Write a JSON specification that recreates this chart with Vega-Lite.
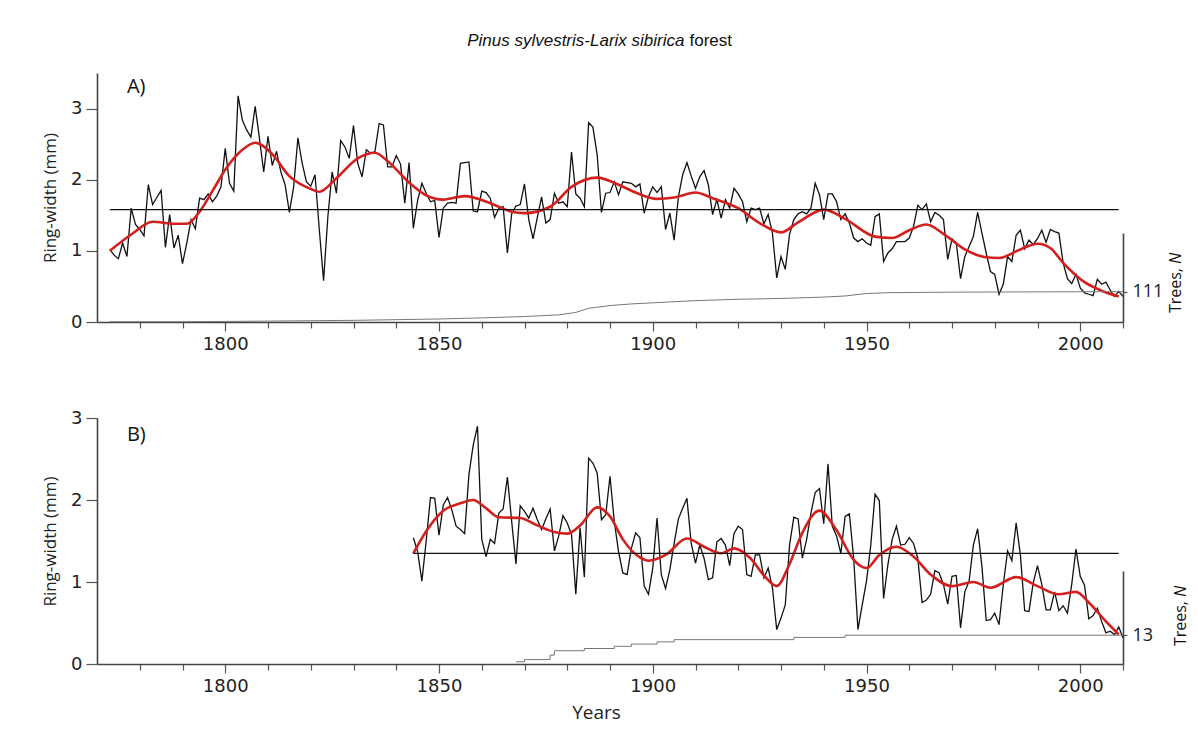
{
  "$schema": "https://vega.github.io/schema/vega-lite/v6.json",
  "background": "white",
  "padding": {"left": 41, "top": 31, "right": 6, "bottom": 2},
  "config": {
    "view": {"stroke": null},
    "axis": {
      "grid": false,
      "domainColor": "#444",
      "domainWidth": 1.6,
      "tickColor": "#555",
      "tickWidth": 1.2,
      "labelFont": "DejaVu Sans",
      "labelFontSize": 18,
      "labelColor": "#222",
      "titleFont": "Open Sans",
      "titleFontWeight": "normal",
      "titleColor": "#222"
    }
  },
  "datasets": {
    "anchor": [{}],
    "rwA": [
      {"year":1773,"rw":1.02},{"year":1774,"rw":0.94},{"year":1775,"rw":0.89},{"year":1776,"rw":1.11},{"year":1777,"rw":0.92},
      {"year":1778,"rw":1.60},{"year":1779,"rw":1.37},{"year":1780,"rw":1.30},{"year":1781,"rw":1.21},{"year":1782,"rw":1.93},
      {"year":1783,"rw":1.65},{"year":1784,"rw":1.75},{"year":1785,"rw":1.85},{"year":1786,"rw":1.05},{"year":1787,"rw":1.51},
      {"year":1788,"rw":1.04},{"year":1789,"rw":1.22},{"year":1790,"rw":0.82},{"year":1791,"rw":1.11},{"year":1792,"rw":1.44},
      {"year":1793,"rw":1.31},{"year":1794,"rw":1.74},{"year":1795,"rw":1.72},{"year":1796,"rw":1.80},{"year":1797,"rw":1.69},
      {"year":1798,"rw":1.77},{"year":1799,"rw":1.90},{"year":1800,"rw":2.44},{"year":1801,"rw":1.95},{"year":1802,"rw":1.84},
      {"year":1803,"rw":3.18},{"year":1804,"rw":2.84},{"year":1805,"rw":2.70},{"year":1806,"rw":2.60},{"year":1807,"rw":3.03},
      {"year":1808,"rw":2.58},{"year":1809,"rw":2.11},{"year":1810,"rw":2.61},{"year":1811,"rw":2.20},{"year":1812,"rw":2.40},
      {"year":1813,"rw":2.11},{"year":1814,"rw":1.93},{"year":1815,"rw":1.54},{"year":1816,"rw":1.90},{"year":1817,"rw":2.59},
      {"year":1818,"rw":2.23},{"year":1819,"rw":1.97},{"year":1820,"rw":1.91},{"year":1821,"rw":2.07},{"year":1822,"rw":1.30},
      {"year":1823,"rw":0.58},{"year":1824,"rw":1.48},{"year":1825,"rw":2.11},{"year":1826,"rw":1.81},{"year":1827,"rw":2.55},
      {"year":1828,"rw":2.46},{"year":1829,"rw":2.30},{"year":1830,"rw":2.76},{"year":1831,"rw":2.23},{"year":1832,"rw":2.04},
      {"year":1833,"rw":2.42},{"year":1834,"rw":2.37},{"year":1835,"rw":2.39},{"year":1836,"rw":2.79},{"year":1837,"rw":2.77},
      {"year":1838,"rw":2.18},{"year":1839,"rw":2.18},{"year":1840,"rw":2.34},{"year":1841,"rw":2.22},{"year":1842,"rw":1.67},
      {"year":1843,"rw":2.24},{"year":1844,"rw":1.32},{"year":1845,"rw":1.71},{"year":1846,"rw":1.95},{"year":1847,"rw":1.81},
      {"year":1848,"rw":1.69},{"year":1849,"rw":1.71},{"year":1850,"rw":1.19},{"year":1851,"rw":1.60},{"year":1852,"rw":1.67},
      {"year":1853,"rw":1.68},{"year":1854,"rw":1.67},{"year":1855,"rw":2.23},{"year":1856,"rw":2.24},{"year":1857,"rw":2.25},
      {"year":1858,"rw":1.56},{"year":1859,"rw":1.55},{"year":1860,"rw":1.84},{"year":1861,"rw":1.82},{"year":1862,"rw":1.74},
      {"year":1863,"rw":1.47},{"year":1864,"rw":1.60},{"year":1865,"rw":1.62},{"year":1866,"rw":0.97},{"year":1867,"rw":1.52},
      {"year":1868,"rw":1.63},{"year":1869,"rw":1.65},{"year":1870,"rw":1.94},{"year":1871,"rw":1.44},{"year":1872,"rw":1.17},
      {"year":1873,"rw":1.47},{"year":1874,"rw":1.76},{"year":1875,"rw":1.39},{"year":1876,"rw":1.44},{"year":1877,"rw":1.81},
      {"year":1878,"rw":1.67},{"year":1879,"rw":1.69},{"year":1880,"rw":1.62},{"year":1881,"rw":2.39},{"year":1882,"rw":1.80},
      {"year":1883,"rw":1.74},{"year":1884,"rw":1.62},{"year":1885,"rw":2.80},{"year":1886,"rw":2.74},{"year":1887,"rw":2.35},
      {"year":1888,"rw":1.54},{"year":1889,"rw":1.81},{"year":1890,"rw":1.82},{"year":1891,"rw":1.97},{"year":1892,"rw":1.79},
      {"year":1893,"rw":1.97},{"year":1894,"rw":1.96},{"year":1895,"rw":1.95},{"year":1896,"rw":1.90},{"year":1897,"rw":1.94},
      {"year":1898,"rw":1.53},{"year":1899,"rw":1.76},{"year":1900,"rw":1.90},{"year":1901,"rw":1.82},{"year":1902,"rw":1.90},
      {"year":1903,"rw":1.30},{"year":1904,"rw":1.53},{"year":1905,"rw":1.15},{"year":1906,"rw":1.76},{"year":1907,"rw":2.07},
      {"year":1908,"rw":2.24},{"year":1909,"rw":2.05},{"year":1910,"rw":1.88},{"year":1911,"rw":2.04},{"year":1912,"rw":2.13},
      {"year":1913,"rw":1.93},{"year":1914,"rw":1.51},{"year":1915,"rw":1.72},{"year":1916,"rw":1.46},{"year":1917,"rw":1.72},
      {"year":1918,"rw":1.60},{"year":1919,"rw":1.88},{"year":1920,"rw":1.80},{"year":1921,"rw":1.69},{"year":1922,"rw":1.41},
      {"year":1923,"rw":1.60},{"year":1924,"rw":1.58},{"year":1925,"rw":1.60},{"year":1926,"rw":1.38},{"year":1927,"rw":1.51},
      {"year":1928,"rw":1.25},{"year":1929,"rw":0.62},{"year":1930,"rw":0.92},{"year":1931,"rw":0.74},{"year":1932,"rw":1.23},
      {"year":1933,"rw":1.44},{"year":1934,"rw":1.52},{"year":1935,"rw":1.55},{"year":1936,"rw":1.52},{"year":1937,"rw":1.60},
      {"year":1938,"rw":1.95},{"year":1939,"rw":1.79},{"year":1940,"rw":1.44},{"year":1941,"rw":1.80},{"year":1942,"rw":1.80},
      {"year":1943,"rw":1.69},{"year":1944,"rw":1.44},{"year":1945,"rw":1.52},{"year":1946,"rw":1.39},{"year":1947,"rw":1.18},
      {"year":1948,"rw":1.13},{"year":1949,"rw":1.17},{"year":1950,"rw":1.11},{"year":1951,"rw":1.08},{"year":1952,"rw":1.48},
      {"year":1953,"rw":1.52},{"year":1954,"rw":0.85},{"year":1955,"rw":0.97},{"year":1956,"rw":1.03},{"year":1957,"rw":1.13},
      {"year":1958,"rw":1.13},{"year":1959,"rw":1.13},{"year":1960,"rw":1.18},{"year":1961,"rw":1.34},{"year":1962,"rw":1.64},
      {"year":1963,"rw":1.58},{"year":1964,"rw":1.66},{"year":1965,"rw":1.41},{"year":1966,"rw":1.54},{"year":1967,"rw":1.50},
      {"year":1968,"rw":1.44},{"year":1969,"rw":0.88},{"year":1970,"rw":1.17},{"year":1971,"rw":1.11},{"year":1972,"rw":0.61},
      {"year":1973,"rw":0.92},{"year":1974,"rw":1.06},{"year":1975,"rw":1.20},{"year":1976,"rw":1.54},{"year":1977,"rw":1.25},
      {"year":1978,"rw":0.97},{"year":1979,"rw":0.71},{"year":1980,"rw":0.67},{"year":1981,"rw":0.39},{"year":1982,"rw":0.53},
      {"year":1983,"rw":0.92},{"year":1984,"rw":0.85},{"year":1985,"rw":1.22},{"year":1986,"rw":1.29},{"year":1987,"rw":1.03},
      {"year":1988,"rw":1.15},{"year":1989,"rw":1.09},{"year":1990,"rw":1.17},{"year":1991,"rw":1.29},{"year":1992,"rw":1.12},
      {"year":1993,"rw":1.30},{"year":1994,"rw":1.27},{"year":1995,"rw":1.25},{"year":1996,"rw":0.83},{"year":1997,"rw":0.61},
      {"year":1998,"rw":0.54},{"year":1999,"rw":0.67},{"year":2000,"rw":0.48},{"year":2001,"rw":0.41},{"year":2002,"rw":0.39},
      {"year":2003,"rw":0.37},{"year":2004,"rw":0.60},{"year":2005,"rw":0.53},{"year":2006,"rw":0.56},{"year":2007,"rw":0.45},
      {"year":2008,"rw":0.36},{"year":2009,"rw":0.43},{"year":2010,"rw":0.36}
    ],
    "splineA": [
      {"year":1773,"rw":1.00},{"year":1778,"rw":1.23},{"year":1783,"rw":1.41},{"year":1788,"rw":1.38},{"year":1791,"rw":1.38},
      {"year":1794,"rw":1.55},{"year":1797,"rw":1.84},{"year":1800,"rw":2.14},{"year":1804,"rw":2.42},{"year":1807,"rw":2.52},
      {"year":1811,"rw":2.36},{"year":1815,"rw":2.05},{"year":1820,"rw":1.87},{"year":1822,"rw":1.83},{"year":1826,"rw":2.02},
      {"year":1831,"rw":2.30},{"year":1835,"rw":2.38},{"year":1838,"rw":2.26},{"year":1843,"rw":1.96},{"year":1847,"rw":1.78},
      {"year":1851,"rw":1.72},{"year":1856,"rw":1.77},{"year":1862,"rw":1.67},{"year":1867,"rw":1.55},{"year":1870,"rw":1.53},
      {"year":1876,"rw":1.62},{"year":1881,"rw":1.90},{"year":1887,"rw":2.03},{"year":1892,"rw":1.93},{"year":1896,"rw":1.82},
      {"year":1901,"rw":1.73},{"year":1905,"rw":1.75},{"year":1910,"rw":1.82},{"year":1914,"rw":1.74},{"year":1920,"rw":1.60},
      {"year":1925,"rw":1.39},{"year":1930,"rw":1.26},{"year":1934,"rw":1.40},{"year":1940,"rw":1.58},{"year":1945,"rw":1.45},
      {"year":1952,"rw":1.20},{"year":1956,"rw":1.18},{"year":1960,"rw":1.29},{"year":1964,"rw":1.37},{"year":1968,"rw":1.24},
      {"year":1973,"rw":1.02},{"year":1978,"rw":0.91},{"year":1981,"rw":0.90},{"year":1986,"rw":1.02},{"year":1990,"rw":1.10},
      {"year":1993,"rw":1.04},{"year":1996,"rw":0.83},{"year":2001,"rw":0.56},{"year":2005,"rw":0.44},{"year":2009,"rw":0.36}
    ],
    "meanA": [{"start":1773,"end":2009,"mean":1.58}],
    "depthA": [
      {"year":1773,"trees":1},{"year":1790,"trees":1},{"year":1800,"trees":2},{"year":1815,"trees":4},{"year":1830,"trees":6},
      {"year":1850,"trees":11},{"year":1860,"trees":15},{"year":1870,"trees":20},{"year":1878,"trees":26},{"year":1882,"trees":35},
      {"year":1885,"trees":50},{"year":1890,"trees":60},{"year":1895,"trees":66},{"year":1900,"trees":70},{"year":1910,"trees":78},
      {"year":1920,"trees":83},{"year":1930,"trees":86},{"year":1940,"trees":91},{"year":1945,"trees":95},{"year":1950,"trees":104},
      {"year":1955,"trees":107},{"year":1970,"trees":109},{"year":2010,"trees":111}
    ],
    "rwB": [
      {"year":1844,"rw":1.54},{"year":1845,"rw":1.37},{"year":1846,"rw":1.01},{"year":1847,"rw":1.50},{"year":1848,"rw":2.03},
      {"year":1849,"rw":2.02},{"year":1850,"rw":1.57},{"year":1851,"rw":1.94},{"year":1852,"rw":2.03},{"year":1853,"rw":1.88},
      {"year":1854,"rw":1.68},{"year":1855,"rw":1.64},{"year":1856,"rw":1.59},{"year":1857,"rw":2.31},{"year":1858,"rw":2.67},
      {"year":1859,"rw":2.90},{"year":1860,"rw":1.52},{"year":1861,"rw":1.31},{"year":1862,"rw":1.52},{"year":1863,"rw":1.47},
      {"year":1864,"rw":1.84},{"year":1865,"rw":1.89},{"year":1866,"rw":2.28},{"year":1867,"rw":1.74},{"year":1868,"rw":1.22},
      {"year":1869,"rw":1.93},{"year":1870,"rw":1.86},{"year":1871,"rw":1.78},{"year":1872,"rw":1.90},{"year":1873,"rw":1.76},
      {"year":1874,"rw":1.64},{"year":1875,"rw":1.77},{"year":1876,"rw":1.89},{"year":1877,"rw":1.38},{"year":1878,"rw":1.56},
      {"year":1879,"rw":1.81},{"year":1880,"rw":1.72},{"year":1881,"rw":1.58},{"year":1882,"rw":0.85},{"year":1883,"rw":1.66},
      {"year":1884,"rw":1.06},{"year":1885,"rw":2.51},{"year":1886,"rw":2.45},{"year":1887,"rw":2.33},{"year":1888,"rw":1.76},
      {"year":1889,"rw":1.82},{"year":1890,"rw":2.29},{"year":1891,"rw":1.74},{"year":1892,"rw":1.37},{"year":1893,"rw":1.11},
      {"year":1894,"rw":1.09},{"year":1895,"rw":1.41},{"year":1896,"rw":1.60},{"year":1897,"rw":1.54},{"year":1898,"rw":0.95},
      {"year":1899,"rw":0.85},{"year":1900,"rw":1.17},{"year":1901,"rw":1.78},{"year":1902,"rw":1.09},{"year":1903,"rw":0.92},
      {"year":1904,"rw":1.15},{"year":1905,"rw":1.47},{"year":1906,"rw":1.77},{"year":1907,"rw":1.90},{"year":1908,"rw":2.02},
      {"year":1909,"rw":1.47},{"year":1910,"rw":1.23},{"year":1911,"rw":1.45},{"year":1912,"rw":1.29},{"year":1913,"rw":1.03},
      {"year":1914,"rw":1.05},{"year":1915,"rw":1.49},{"year":1916,"rw":1.53},{"year":1917,"rw":1.45},{"year":1918,"rw":1.20},
      {"year":1919,"rw":1.59},{"year":1920,"rw":1.68},{"year":1921,"rw":1.64},{"year":1922,"rw":1.09},{"year":1923,"rw":1.07},
      {"year":1924,"rw":1.33},{"year":1925,"rw":1.33},{"year":1926,"rw":1.05},{"year":1927,"rw":1.17},{"year":1928,"rw":0.93},
      {"year":1929,"rw":0.42},{"year":1930,"rw":0.56},{"year":1931,"rw":0.72},{"year":1932,"rw":1.45},{"year":1933,"rw":1.79},
      {"year":1934,"rw":1.77},{"year":1935,"rw":1.29},{"year":1936,"rw":1.52},{"year":1937,"rw":1.84},{"year":1938,"rw":2.09},
      {"year":1939,"rw":2.14},{"year":1940,"rw":1.71},{"year":1941,"rw":2.44},{"year":1942,"rw":1.68},{"year":1943,"rw":1.56},
      {"year":1944,"rw":1.35},{"year":1945,"rw":1.80},{"year":1946,"rw":1.83},{"year":1947,"rw":1.29},{"year":1948,"rw":0.42},
      {"year":1949,"rw":0.72},{"year":1950,"rw":1.01},{"year":1951,"rw":1.45},{"year":1952,"rw":2.07},{"year":1953,"rw":1.99},
      {"year":1954,"rw":0.80},{"year":1955,"rw":1.21},{"year":1956,"rw":1.52},{"year":1957,"rw":1.68},{"year":1958,"rw":1.45},
      {"year":1959,"rw":1.46},{"year":1960,"rw":1.54},{"year":1961,"rw":1.47},{"year":1962,"rw":1.29},{"year":1963,"rw":0.75},
      {"year":1964,"rw":0.78},{"year":1965,"rw":0.85},{"year":1966,"rw":1.14},{"year":1967,"rw":1.11},{"year":1968,"rw":0.97},
      {"year":1969,"rw":0.73},{"year":1970,"rw":1.07},{"year":1971,"rw":1.08},{"year":1972,"rw":0.44},{"year":1973,"rw":0.88},
      {"year":1974,"rw":1.01},{"year":1975,"rw":1.45},{"year":1976,"rw":1.65},{"year":1977,"rw":1.19},{"year":1978,"rw":0.53},
      {"year":1979,"rw":0.54},{"year":1980,"rw":0.62},{"year":1981,"rw":0.48},{"year":1982,"rw":0.97},{"year":1983,"rw":1.38},
      {"year":1984,"rw":1.26},{"year":1985,"rw":1.72},{"year":1986,"rw":1.33},{"year":1987,"rw":0.65},{"year":1988,"rw":0.64},
      {"year":1989,"rw":0.99},{"year":1990,"rw":1.20},{"year":1991,"rw":0.97},{"year":1992,"rw":0.66},{"year":1993,"rw":0.66},
      {"year":1994,"rw":0.88},{"year":1995,"rw":0.65},{"year":1996,"rw":0.71},{"year":1997,"rw":0.62},{"year":1998,"rw":0.97},
      {"year":1999,"rw":1.40},{"year":2000,"rw":1.07},{"year":2001,"rw":0.96},{"year":2002,"rw":0.55},{"year":2003,"rw":0.59},
      {"year":2004,"rw":0.68},{"year":2005,"rw":0.52},{"year":2006,"rw":0.38},{"year":2007,"rw":0.40},{"year":2008,"rw":0.36},
      {"year":2009,"rw":0.45},{"year":2010,"rw":0.32}
    ],
    "splineB": [
      {"year":1844,"rw":1.35},{"year":1847,"rw":1.62},{"year":1851,"rw":1.87},{"year":1855,"rw":1.96},{"year":1858,"rw":2.00},
      {"year":1861,"rw":1.90},{"year":1864,"rw":1.79},{"year":1869,"rw":1.78},{"year":1873,"rw":1.69},{"year":1877,"rw":1.61},
      {"year":1880,"rw":1.59},{"year":1883,"rw":1.69},{"year":1887,"rw":1.91},{"year":1890,"rw":1.80},{"year":1893,"rw":1.52},
      {"year":1897,"rw":1.30},{"year":1899,"rw":1.26},{"year":1903,"rw":1.33},{"year":1908,"rw":1.53},{"year":1912,"rw":1.43},
      {"year":1916,"rw":1.35},{"year":1919,"rw":1.41},{"year":1923,"rw":1.28},{"year":1926,"rw":1.08},{"year":1929,"rw":0.95},
      {"year":1932,"rw":1.22},{"year":1935,"rw":1.60},{"year":1939,"rw":1.87},{"year":1943,"rw":1.63},{"year":1947,"rw":1.27},
      {"year":1950,"rw":1.17},{"year":1953,"rw":1.33},{"year":1957,"rw":1.43},{"year":1961,"rw":1.31},{"year":1965,"rw":1.09},
      {"year":1970,"rw":0.95},{"year":1975,"rw":1.00},{"year":1979,"rw":0.93},{"year":1985,"rw":1.06},{"year":1990,"rw":0.95},
      {"year":1995,"rw":0.85},{"year":1999,"rw":0.88},{"year":2002,"rw":0.75},{"year":2006,"rw":0.52},{"year":2009,"rw":0.36}
    ],
    "meanB": [{"start":1844,"end":2009,"mean":1.35}],
    "depthB": [
      {"year":1868,"trees":1},{"year":1870,"trees":2},{"year":1876,"trees":4},{"year":1877,"trees":6},{"year":1884,"trees":7},
      {"year":1891,"trees":8},{"year":1895,"trees":9},{"year":1901,"trees":10},{"year":1905,"trees":11},{"year":1933,"trees":12},
      {"year":1945,"trees":13},{"year":2010,"trees":13}
    ]
  },
  "vconcat": [
    {
      "width": 1026,
      "height": 249,
      "layer": [
        {
          "layer": [
            {
              "data": {"name": "rwA"},
              "mark": {"type": "line", "color": "#111", "strokeWidth": 1.3},
              "encoding": {
                "x": {"field": "year", "type": "quantitative",
                  "scale": {"domain": [1770, 2010], "nice": false, "zero": false},
                  "axis": {"title": null, "format": "d",
                    "values": [1780,1790,1800,1810,1820,1830,1840,1850,1860,1870,1880,1890,1900,1910,1920,1930,1940,1950,1960,1970,1980,1990,2000,2010],
                    "labelExpr": "datum.value % 50 === 0 ? datum.label : ''",
                    "tickSize": {"condition": {"test": "datum.value % 50 === 0", "value": 9}, "value": 6},
                    "labelPadding": 4}},
                "y": {"field": "rw", "type": "quantitative",
                  "scale": {"domain": [0, 3.5], "nice": false},
                  "axis": {"title": "Ring-width (mm)", "titleFontSize": 17, "titlePadding": 11, "format": "d",
                    "values": [0,0.25,0.5,0.75,1,1.25,1.5,1.75,2,2.25,2.5,2.75,3,3.25,3.5],
                    "labelExpr": "datum.value % 1 === 0 ? datum.label : ''",
                    "tickSize": {"condition": {"test": "datum.value % 1 === 0", "value": 11}, "value": 6},
                    "labelPadding": 4}}
              }
            },
            {
              "data": {"name": "splineA"},
              "mark": {"type": "line", "color": "#d41f1f", "strokeWidth": 2.6, "interpolate": "monotone"},
              "encoding": {
                "x": {"field": "year", "type": "quantitative", "scale": {"domain": [1770, 2010], "nice": false, "zero": false}},
                "y": {"field": "rw", "type": "quantitative"}
              }
            },
            {
              "data": {"name": "meanA"},
              "mark": {"type": "rule", "color": "#111", "strokeWidth": 1.3},
              "encoding": {
                "x": {"field": "start", "type": "quantitative", "scale": {"domain": [1770, 2010], "nice": false, "zero": false}},
                "x2": {"field": "end"},
                "y": {"field": "mean", "type": "quantitative"}
              }
            },
            {
              "data": {"name": "anchor"},
              "mark": {"type": "text", "text": "A)", "font": "Open Sans", "fontSize": 20, "align": "left", "baseline": "alphabetic", "color": "#111"},
              "encoding": {
                "x": {"datum": 1777, "type": "quantitative"},
                "y": {"datum": 3.22, "type": "quantitative"}
              }
            },
            {
              "data": {"name": "anchor"},
              "mark": {"type": "text", "text": "Pinus sylvestris-Larix sibirica", "font": "Liberation Sans", "fontSize": 17, "fontStyle": "italic", "align": "right", "baseline": "alphabetic", "dx": -2.5, "dy": -27.5, "color": "#111"},
              "encoding": {
                "x": {"datum": 1908, "type": "quantitative"},
                "y": {"datum": 3.5, "type": "quantitative"}
              }
            },
            {
              "data": {"name": "anchor"},
              "mark": {"type": "text", "text": "forest", "font": "Liberation Sans", "fontSize": 17, "align": "left", "baseline": "alphabetic", "dx": 2.5, "dy": -27.5, "color": "#111"},
              "encoding": {
                "x": {"datum": 1908, "type": "quantitative"},
                "y": {"datum": 3.5, "type": "quantitative"}
              }
            }
          ]
        },
        {
          "layer": [
            {
              "data": {"name": "depthA"},
              "mark": {"type": "line", "color": "#777", "strokeWidth": 1},
              "encoding": {
                "x": {"field": "year", "type": "quantitative", "scale": {"domain": [1770, 2010], "nice": false, "zero": false}},
                "y": {"field": "trees", "type": "quantitative",
                  "scale": {"domain": [0, 325], "nice": false, "range": [249, 160]},
                  "axis": {"orient": "right", "title": null, "values": [111], "format": "d",
                    "tickSize": 4, "labelFont": "Open Sans", "labelFontSize": 18, "labelPadding": 5}}
              }
            },
            {
              "data": {"name": "anchor"},
              "mark": {"type": "text", "text": "Trees,", "font": "Open Sans", "fontSize": 16, "angle": 270, "align": "right", "baseline": "middle", "dx": 54, "dy": 53, "color": "#111"},
              "encoding": {
                "x": {"datum": 2010, "type": "quantitative"},
                "y": {"datum": 0, "type": "quantitative"}
              }
            },
            {
              "data": {"name": "anchor"},
              "mark": {"type": "text", "text": "N", "font": "Open Sans", "fontSize": 16, "fontStyle": "italic", "angle": 270, "align": "left", "baseline": "middle", "dx": 58, "dy": 53, "color": "#111"},
              "encoding": {
                "x": {"datum": 2010, "type": "quantitative"},
                "y": {"datum": 0, "type": "quantitative"}
              }
            }
          ]
        }
      ],
      "resolve": {"scale": {"y": "independent"}}
    },
    {
      "width": 1026,
      "height": 246,
      "layer": [
        {
          "layer": [
            {
              "data": {"name": "rwB"},
              "mark": {"type": "line", "color": "#111", "strokeWidth": 1.3},
              "encoding": {
                "x": {"field": "year", "type": "quantitative",
                  "scale": {"domain": [1770, 2010], "nice": false, "zero": false},
                  "axis": {"title": "Years", "titleFontSize": 19, "titlePadding": 8, "titleX": 499, "format": "d",
                    "values": [1780,1790,1800,1810,1820,1830,1840,1850,1860,1870,1880,1890,1900,1910,1920,1930,1940,1950,1960,1970,1980,1990,2000,2010],
                    "labelExpr": "datum.value % 50 === 0 ? datum.label : ''",
                    "tickSize": {"condition": {"test": "datum.value % 50 === 0", "value": 9}, "value": 6},
                    "labelPadding": 4}},
                "y": {"field": "rw", "type": "quantitative",
                  "scale": {"domain": [0, 3], "nice": false},
                  "axis": {"title": "Ring-width (mm)", "titleFontSize": 17, "titlePadding": 11, "format": "d",
                    "values": [0,0.25,0.5,0.75,1,1.25,1.5,1.75,2,2.25,2.5,2.75,3],
                    "labelExpr": "datum.value % 1 === 0 ? datum.label : ''",
                    "tickSize": {"condition": {"test": "datum.value % 1 === 0", "value": 11}, "value": 6},
                    "labelPadding": 4}}
              }
            },
            {
              "data": {"name": "splineB"},
              "mark": {"type": "line", "color": "#d41f1f", "strokeWidth": 2.6, "interpolate": "monotone"},
              "encoding": {
                "x": {"field": "year", "type": "quantitative", "scale": {"domain": [1770, 2010], "nice": false, "zero": false}},
                "y": {"field": "rw", "type": "quantitative"}
              }
            },
            {
              "data": {"name": "meanB"},
              "mark": {"type": "rule", "color": "#111", "strokeWidth": 1.3},
              "encoding": {
                "x": {"field": "start", "type": "quantitative", "scale": {"domain": [1770, 2010], "nice": false, "zero": false}},
                "x2": {"field": "end"},
                "y": {"field": "mean", "type": "quantitative"}
              }
            },
            {
              "data": {"name": "anchor"},
              "mark": {"type": "text", "text": "B)", "font": "Open Sans", "fontSize": 20, "align": "left", "baseline": "alphabetic", "color": "#111"},
              "encoding": {
                "x": {"datum": 1777, "type": "quantitative"},
                "y": {"datum": 2.72, "type": "quantitative"}
              }
            }
          ]
        },
        {
          "layer": [
            {
              "data": {"name": "depthB"},
              "mark": {"type": "line", "color": "#777", "strokeWidth": 1, "interpolate": "step-after"},
              "encoding": {
                "x": {"field": "year", "type": "quantitative", "scale": {"domain": [1770, 2010], "nice": false, "zero": false}},
                "y": {"field": "trees", "type": "quantitative",
                  "scale": {"domain": [0, 42], "nice": false, "range": [246, 153]},
                  "axis": {"orient": "right", "title": null, "values": [13], "format": "d",
                    "tickSize": 4, "labelFont": "Open Sans", "labelFontSize": 18, "labelPadding": 5}}
              }
            },
            {
              "data": {"name": "anchor"},
              "mark": {"type": "text", "text": "Trees,", "font": "Open Sans", "fontSize": 16, "angle": 270, "align": "right", "baseline": "middle", "dx": 63, "dy": 58, "color": "#111"},
              "encoding": {
                "x": {"datum": 2010, "type": "quantitative"},
                "y": {"datum": 0, "type": "quantitative"}
              }
            },
            {
              "data": {"name": "anchor"},
              "mark": {"type": "text", "text": "N", "font": "Open Sans", "fontSize": 16, "fontStyle": "italic", "angle": 270, "align": "left", "baseline": "middle", "dx": 67, "dy": 58, "color": "#111"},
              "encoding": {
                "x": {"datum": 2010, "type": "quantitative"},
                "y": {"datum": 0, "type": "quantitative"}
              }
            }
          ]
        }
      ],
      "resolve": {"scale": {"y": "independent"}}
    }
  ],
  "spacing": 96,
  "bounds": "flush"
}
